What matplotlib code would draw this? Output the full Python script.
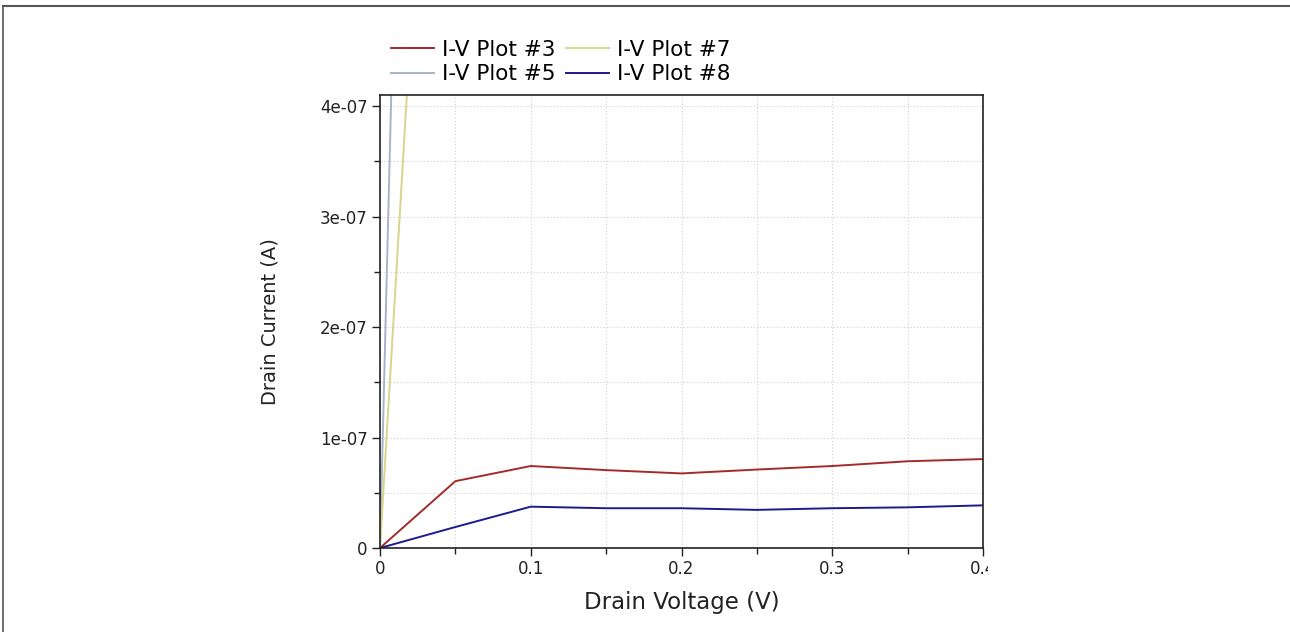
import matplotlib
matplotlib.use("Agg")
import matplotlib.pyplot as plt
from matplotlib.ticker import MultipleLocator, FuncFormatter
from matplotlib.lines import Line2D
from matplotlib.patches import Rectangle

plt.rcParams['font.family'] = ['DejaVu Sans']

# Data (drain voltage in V, drain current in A)
vd = [0.0, 0.05, 0.1, 0.15, 0.2, 0.25, 0.3, 0.35, 0.4]
plot3 = [0.0, 6.05e-8, 7.42e-8, 7.05e-8, 6.75e-8, 7.1e-8, 7.42e-8, 7.85e-8, 8.05e-8]
plot8 = [0.0, 1.9e-8, 3.74e-8, 3.6e-8, 3.6e-8, 3.45e-8, 3.6e-8, 3.68e-8, 3.86e-8]
plot5 = [0.0, 2.75e-6, 5.5e-6, 8.25e-6, 1.1e-5, 1.375e-5, 1.65e-5, 1.925e-5, 2.2e-5]
plot7 = [0.0, 1.15e-6, 2.3e-6, 3.45e-6, 4.6e-6, 5.75e-6, 6.9e-6, 8.05e-6, 9.2e-6]

labels = ["I-V Plot #3", "I-V Plot #5", "I-V Plot #7", "I-V Plot #8"]
colors = ["#a52a2a", "#a8b2c8", "#d6d68c", "#1c1c8c"]
series = [plot3, plot5, plot7, plot8]

W, H = 1290, 632
fig = plt.figure(figsize=(W / 100, H / 100), dpi=100)
ax = fig.add_axes([380 / W, 1 - 548 / H, (983 - 380) / W, (548 - 95) / H])

handles = []
for ys, c, lab in zip(series, colors, labels):
    h, = ax.plot(vd, ys, color=c, lw=1.4, label=lab)
    handles.append(h)

ax.set_xlim(0, 0.4)
ax.set_ylim(0, 4.1e-7)
ax.xaxis.set_major_locator(MultipleLocator(0.1))
ax.xaxis.set_minor_locator(MultipleLocator(0.05))
ax.yaxis.set_major_locator(MultipleLocator(1e-7))
ax.yaxis.set_minor_locator(MultipleLocator(0.5e-7))
ax.xaxis.set_major_formatter(FuncFormatter(lambda v, p: "0" if abs(v) < 1e-12 else f"{v:.1f}"))
ax.yaxis.set_major_formatter(FuncFormatter(lambda v, p: "0" if abs(v) < 1e-15 else f"{v:.0e}"))
ax.yaxis.get_offset_text().set_visible(False)

ax.grid(True, which='both', color='#cfcfcf', lw=0.8, linestyle=(0, (1, 2)))
ax.set_axisbelow(True)
ax.tick_params(which='major', direction='out', length=6, width=1.0, color='#202020',
               labelsize=12, labelcolor='#222222', pad=3)
ax.tick_params(which='minor', direction='out', length=4, width=1.0, color='#202020')
for s in ax.spines.values():
    s.set_color('#222222')
    s.set_linewidth(1.2)

ax.set_xlabel("Drain Voltage (V)", fontsize=16.5, color='#222222', labelpad=9)
ax.set_ylabel("Drain Current (A)", fontsize=14, color='#222222', labelpad=29)

leg = fig.legend(handles=handles, labels=labels, ncol=2, loc='upper left',
                 bbox_to_anchor=(380 / W, 1 - 29 / H), frameon=False,
                 fontsize=15.5, handlelength=2.0, handletextpad=0.4,
                 columnspacing=0.45, labelspacing=0.22, borderpad=0)

# clip the last x tick label as in the reference
fig.add_artist(Rectangle((988 / W, 1 - 585 / H), 60 / W, 30 / H,
                         transform=fig.transFigure, facecolor='white',
                         edgecolor='none', zorder=10))

# window frame lines
fig.add_artist(Line2D([3 / W, 1], [1 - 6 / H, 1 - 6 / H], transform=fig.transFigure,
                      color='#555555', lw=1.5))
fig.add_artist(Line2D([3 / W, 3 / W], [0, 1 - 6 / H], transform=fig.transFigure,
                      color='#555555', lw=1.2))

fig.savefig("out.png", dpi=100)
